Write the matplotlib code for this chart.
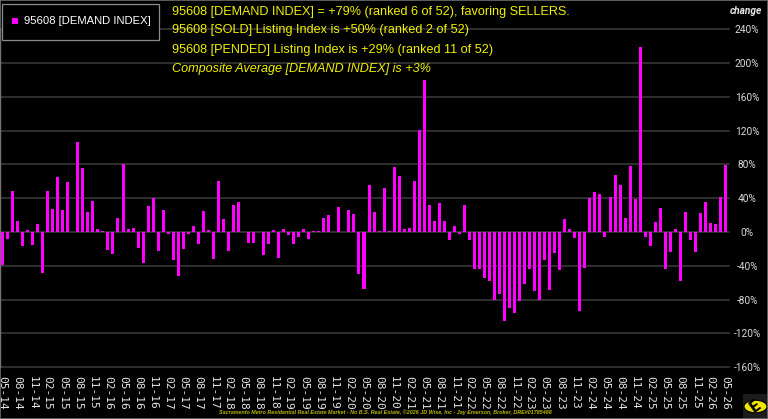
import numpy as np
import pandas as pd
import matplotlib
matplotlib.use('Agg')
import matplotlib.pyplot as plt
from matplotlib.patches import Rectangle, Circle

# monthly demand index, 05-14 .. 05-26
demand = [-39, -8, 48, 13, -17, 2, -15, 9, -48, 48, 27, 65, 26, 59, -0.5, 106,
          76, 24, 37, 4, 1, -21, -26, 17, 80, 4, 5, -19, -37, 31, 40, -22,
          26, -2, -33, -52, -20, -2, 7.5, -14, 25, 2, -32, 60, 15, -23, 32, 36,
          0, -13, -13, 0, -27, -14, 2.5, -31, 4, -3, -14, -6, 4, -8, 1.5, 1,
          17, 20, 0, 30, -0.5, 26, 21, -50, -67, 56, 24, 1, 52, 1, 77, 66,
          4, 5, 61, 121, 180, 32, 13, 34, 13, -9, 7.5, -2, 32, -10, -44, -44,
          -54, -58, -81, -73, -105, -90, -96, -82, -62, -44, -70, -80, -33, -69, -25, -45,
          15, 4, -7, -93, -42, 40, 47, 45, -6, 42, 67, 56, 17, 78, 39, 219,
          -5.5, -16, 12, 28, -44, -24, 3.5, -58, 24, -10, -24, 23, 35.5, 11, 10, 41,
          79]
months = pd.date_range('2014-05-01', periods=len(demand), freq='MS')
month_labels = months.strftime('%m-%y')
y_ticks = [-160, -120, -80, -40, 0, 40, 80, 120, 160, 200, 240]

header = ['95608 [DEMAND INDEX] = +79% (ranked 6 of 52), favoring SELLERS.',
          '95608 [SOLD] Listing Index is +50% (ranked 2 of 52)',
          '95608 [PENDED] Listing Index is +29% (ranked 11 of 52)',
          'Composite Average [DEMAND INDEX] is +3%']
footer = ('Sacramento Metro Residential Real Estate Market - No B.S. Real Estate, '
          '\u00a92026 JD Wise, Inc - Jay Emerson, Broker, DRE#01785488')

W, H = 768, 419
MAG = '#ff00ff'
YEL = '#f0f000'


def fx(px):
    return px / W


def fy(py):
    return 1 - py / H


fig = plt.figure(figsize=(W / 100, H / 100), dpi=100, facecolor='black')
ax = fig.add_axes([fx(0), fy(367.2), fx(728.5), (367.2 - 29.3) / H])
ax.set_facecolor('black')

x = np.arange(len(demand))
ax.bar(x, demand, width=0.6, color=MAG, zorder=3)

ax.set_xlim(-0.5, len(demand) - 0.4)
ax.set_ylim(-160, 240)
for t in y_ticks:
    ax.axhline(t, color='#3c3c3c', lw=1.1, zorder=1, clip_on=False)

for s in ['top', 'right', 'bottom']:
    ax.spines[s].set_visible(False)
ax.spines['left'].set_color('#808080')
ax.spines['left'].set_linewidth(1.0)

ax.set_xticks(x[::3])
ax.set_xticklabels(month_labels[::3], rotation=-90, family='DejaVu Sans Mono',
                   fontsize=8, color='#e6e6e6')
ax.tick_params(axis='x', length=0, pad=6.5)

ax.yaxis.tick_right()
ax.set_yticks(y_ticks)
ax.set_yticklabels([f'{t}%' for t in y_ticks], family='Roboto', fontsize=7.3,
                   color='#d8d8d8', ha='center')
ax.tick_params(axis='y', length=0, pad=13.5)

fig.text(fx(762), fy(11), 'change', ha='right', va='center', family='Roboto',
         fontsize=7.3, fontweight='bold', fontstyle='italic', color='#e6e6e6')

# header lines
ys = [12, 30.5, 50, 69]
for i, (line, yy) in enumerate(zip(header, ys)):
    fig.text(fx(172), fy(yy), line, ha='left', va='center', family='Liberation Sans',
             fontsize=9.1, color=YEL, fontstyle='italic' if i == 3 else 'normal')

# legend box
fig.add_artist(Rectangle((fx(1.5), fy(40)), fx(157), (40 - 4) / H,
                         transform=fig.transFigure, facecolor='black',
                         edgecolor='#8c8c8c', lw=0.9, zorder=5))
fig.add_artist(Rectangle((fx(11.5), fy(24)), fx(6), 6 / H, transform=fig.transFigure,
                         facecolor=MAG, edgecolor='none', zorder=6))
fig.text(fx(23.5), fy(21.5), '95608 [DEMAND INDEX]', ha='left', va='center',
         family='Liberation Sans', fontsize=8.1, color='white', zorder=7)

# footer
fig.text(fx(385), fy(412), footer, ha='center', va='center', family='Liberation Sans',
         fontsize=3.9, fontstyle='italic', fontweight='bold', color='#b8b800', zorder=8)

# logo
fig.add_artist(Rectangle((fx(743), fy(419)), fx(25), 25 / H, transform=fig.transFigure,
                         facecolor='#1c1c1c', edgecolor='none', zorder=5))
fig.add_artist(Circle((fx(755.5), fy(406.5)), fx(11.5), transform=fig.transFigure,
                      facecolor='#f2e600', edgecolor='black', lw=0.8, zorder=6))
fig.text(fx(755.5), fy(406.5), 'E', ha='center', va='center', family='DejaVu Sans',
         fontsize=11, fontweight='bold', color='black', rotation=35, zorder=7)

# outer frame
fig.add_artist(Rectangle((0, 0), 1, 1, transform=fig.transFigure, fill=False,
                         edgecolor='#6e6e6e', lw=1.2, zorder=10))

fig.savefig('out.png', dpi=100, facecolor='black')
